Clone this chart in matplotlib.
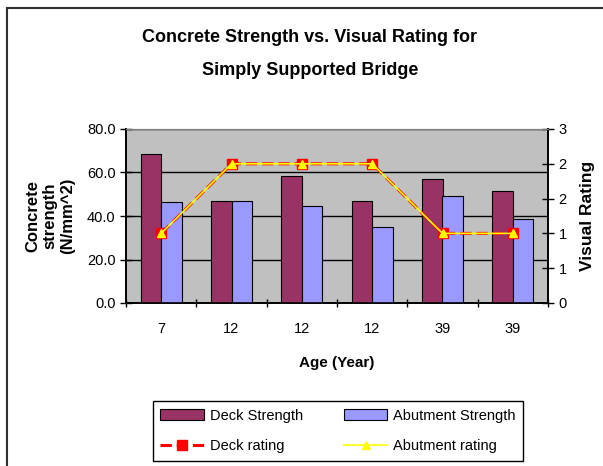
import matplotlib
matplotlib.use("Agg")
import matplotlib.pyplot as plt
from matplotlib.patches import Rectangle
from matplotlib.ticker import FixedLocator, FormatStrFormatter

plt.rcParams['font.family'] = ['Liberation Sans', 'DejaVu Sans']

# =========================================================
# data
# =========================================================
ages = ["7", "12", "12", "12", "39", "39"]
deck_strength = [68.6, 47.0, 58.5, 47.0, 57.0, 51.5]
abutment_strength = [46.6, 47.0, 44.7, 34.8, 49.2, 38.6]
deck_rating = [1.2, 2.4, 2.4, 2.4, 1.2, 1.2]
abutment_rating = [1.2, 2.4, 2.4, 2.4, 1.2, 1.2]

deck_col = "#993366"
abut_col = "#9999FF"

fig = plt.figure(figsize=(6.03, 4.66), dpi=100)
ax = fig.add_axes([126/603, 1 - 303/466, 422/603, 174/466])
ax2 = ax.twinx()

x = list(range(len(ages)))
w = 0.29
b1 = ax.bar([i - w/2 for i in x], deck_strength, w, color=deck_col,
            edgecolor="black", linewidth=0.8, label="Deck Strength", zorder=3)
b2 = ax.bar([i + w/2 for i in x], abutment_strength, w, color=abut_col,
            edgecolor="black", linewidth=0.8, label="Abutment Strength", zorder=3)

ax.set_facecolor("#C0C0C0")
ax.set_ylim(0, 80)
ax.set_xlim(-0.5, len(ages) - 0.5)
ax.set_yticks([0, 20, 40, 60, 80])
ax.yaxis.set_major_formatter(FormatStrFormatter("%.1f"))
ax.yaxis.grid(True, color="black", linewidth=1.0, zorder=1)
ax.set_axisbelow(True)
ax.set_xticks(x)
ax.set_xticklabels(ages)
ax.tick_params(axis="x", which="major", length=0, pad=14, labelsize=10.5)
ax.xaxis.set_minor_locator(FixedLocator([i + 0.5 for i in range(-1, len(ages))]))
ax.tick_params(axis="x", which="minor", length=6, direction="inout", width=1)
ax.tick_params(axis="y", length=8, direction="inout", width=1, labelsize=10.5)
ax.set_xlabel("Age (Year)", fontsize=11, fontweight="bold", va="center")
ax.xaxis.set_label_coords(0.5, -0.345)
ax.set_ylabel("Concrete\nstrength\n(N/mm^2)", fontsize=12, fontweight="bold",
              linespacing=1.2, va="center")
ax.yaxis.set_label_coords(-0.18, 0.5)

l1, = ax2.plot(x, deck_rating, color="#FF0000", linestyle="--", linewidth=2.2,
               marker="s", markersize=6.5, markerfacecolor="#FF0000",
               markeredgecolor="#FF0000", label="Deck rating", zorder=4)
l2, = ax2.plot(x, abutment_rating, color="#FFFF00", linestyle="-", linewidth=1.2,
               marker="^", markersize=5.5, markerfacecolor="#FFFF00",
               markeredgecolor="#FFFF00", label="Abutment rating", zorder=5)
ax2.set_ylim(0, 3)
ax2.set_yticks([0, 0.6, 1.2, 1.8, 2.4, 3.0])
ax2.yaxis.set_major_formatter(FormatStrFormatter("%.0f"))
ax2.tick_params(axis="y", length=8, direction="inout", width=1, labelsize=10.5)
ax2.set_ylabel("Visual Rating", fontsize=12.5, fontweight="bold", va="center")
ax2.yaxis.set_label_coords(1.093, 0.5)

for a in (ax, ax2):
    a.spines["top"].set_color("#808080")
    a.spines["left"].set_linewidth(1.2)
    a.spines["bottom"].set_linewidth(1.2)
    a.spines["right"].set_linewidth(1.2)

fig.text(310/603, 1 - 54/466, "Concrete Strength vs. Visual Rating for\nSimply Supported Bridge",
         ha="center", va="center", fontsize=13, fontweight="bold", linespacing=2.2)

fig.legend([b1, l1, b2, l2], ["Deck Strength", "Deck rating", "Abutment Strength", "Abutment rating"],
           ncol=2, loc="center", bbox_to_anchor=(338/603, 35/466), fontsize=10.5,
           frameon=True, fancybox=False, edgecolor="black", framealpha=1,
           handlelength=3.0, handletextpad=0.4, columnspacing=2.8,
           borderpad=0.5, labelspacing=1.15)

fig.patches.append(Rectangle((7/603, -0.1), 1.2, 1 - 8/466 + 0.1, transform=fig.transFigure,
                             fill=False, edgecolor="#303030", linewidth=1.5))

fig.savefig("out.png", dpi=100)
